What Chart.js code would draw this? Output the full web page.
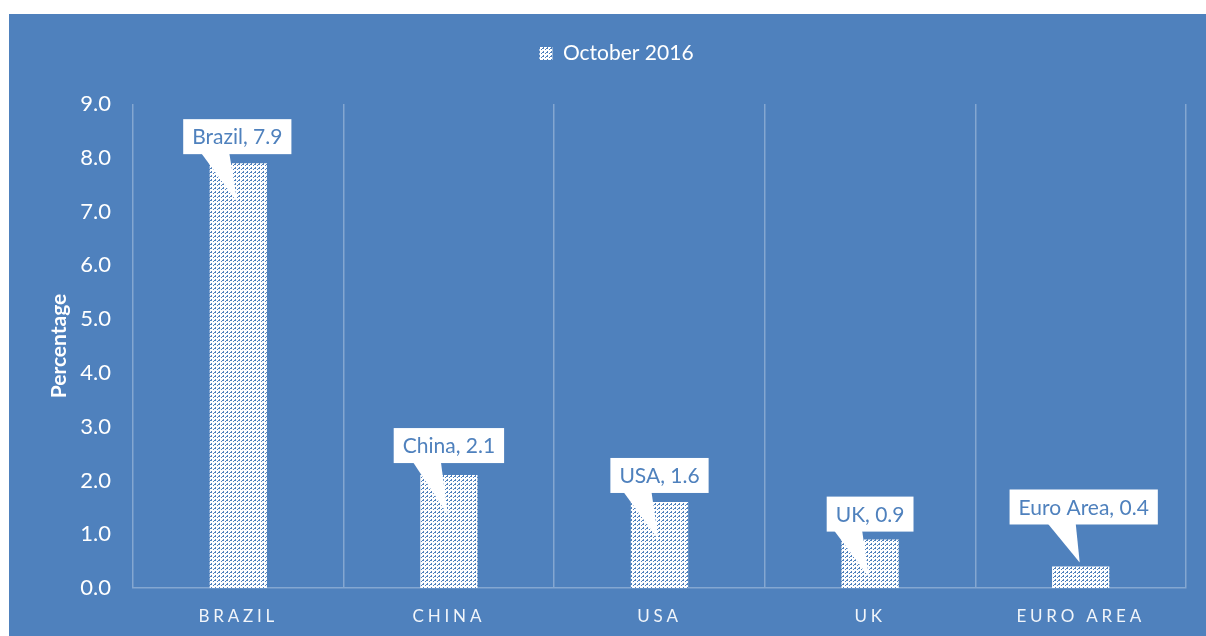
<!DOCTYPE html>
<html>
<head>
<meta charset="utf-8">
<script src="https://cdn.jsdelivr.net/npm/chart.js@4"></script>
<style>
  body { margin: 0; background: #fff; }
  #wrap { position: absolute; left: 9px; top: 14px; width: 1197px; height: 622px; background: #4F81BD; }
</style>
</head>
<body>
<div id="wrap"><canvas id="myBarChart"></canvas></div>
<script>
// data
var categories = ['Brazil', 'China', 'USA', 'UK', 'Euro Area'];
var seriesName = 'October 2016';
var values = [7.9, 2.1, 1.6, 0.9, 0.4];
var yMin = 0, yMax = 9, yStep = 1;

var blue = '#4F81BD';
var bct = document.getElementById('myBarChart').getContext('2d');

// white bars with dashed upward diagonal hatch
function hatch() {
  var c = document.createElement('canvas');
  c.width = 8; c.height = 8;
  var g = c.getContext('2d');
  g.fillStyle = '#fff';
  g.fillRect(0, 0, 8, 8);
  g.fillStyle = blue;
  for (var y = 0; y < 8; y++) {
    for (var x = 0; x < 8; x++) {
      var d = (x + y) % 4;
      if ((d === 3 && y % 4 !== 0) || (d === 0 && y % 4 === 2)) g.fillRect(x, y, 1, 1);
    }
  }
  return bct.createPattern(c, 'repeat');
}
var pat = hatch();

// callout labels, like excel data callouts
var callouts = {
  id: 'callouts',
  beforeInit: function (chart) {
    // extra room between legend and plot
    var lg = chart.legend;
    if (lg) {
      var fit = lg.fit;
      lg.fit = function () { fit.call(lg); lg.height += 30; };
    }
  },
  beforeDraw: function (chart) { chart.ctx.letterSpacing = '0px'; },
  afterDatasetsDraw: function (chart) { chart.ctx.letterSpacing = '3.8px'; },
  afterDraw: function (chart, args, opts) {
    var ctx = chart.ctx;
    ctx.letterSpacing = '0px';
    var meta = chart.getDatasetMeta(0);
    ctx.save();
    ctx.font = '21px Lato';
    meta.data.forEach(function (bar, i) {
      var txt = categories[i] + ', ' + values[i].toFixed(1);
      var w = ctx.measureText(txt).width + 18;
      var h = 35;
      var cx = bar.x + opts.shift[i];
      var bottom = bar.y - opts.lift[i];
      var top = bottom - h;
      var tipY = bar.y + opts.tip[i];
      ctx.fillStyle = '#fff';
      ctx.fillRect(cx - w / 2, top, w, h);
      ctx.beginPath();
      ctx.moveTo(cx - 36, bottom - 1);
      ctx.lineTo(cx - 8, bottom - 1);
      ctx.lineTo(bar.x - 1, tipY);
      ctx.closePath();
      ctx.fill();
      ctx.fillStyle = blue;
      ctx.textAlign = 'center';
      ctx.textBaseline = 'middle';
      ctx.fillText(txt, cx, top + h / 2 + 1);
    });
    ctx.restore();
  }
};

var bchart = new Chart(bct, {
  type: 'bar',
  data: {
    labels: categories,
    datasets: [{
      label: seriesName,
      data: values,
      backgroundColor: pat,
      borderWidth: 0,
      barPercentage: 0.272,
      categoryPercentage: 1
    }]
  },
  options: {
    responsive: true,
    maintainAspectRatio: false,
    animation: false,
    layout: { padding: { left: 38, right: 20, top: 9, bottom: 0 } },
    plugins: {
      tooltip: { enabled: false },
      legend: {
        position: 'top',
        labels: {
          color: '#fff',
          font: { family: 'Lato', size: 21 },
          boxWidth: 13,
          boxHeight: 13,
          padding: 20
        }
      },
      callouts: {
        shift: [-1, 0, 0, 0, 3],
        lift: [9, 12, 9, 8, 42],
        tip: [39, 40, 38, 38, -4]
      }
    },
    scales: {
      x: {
        grid: { display: true, color: 'rgba(255,255,255,0.3)', lineWidth: 1.5, drawTicks: false, offset: true },
        border: { display: true, color: 'rgba(255,255,255,0.3)', width: 1.5 },
        ticks: {
          z: 1,
          color: 'rgba(255,255,255,0.92)',
          font: { family: 'Lato', size: 17 },
          padding: 18,
          autoSkip: false,
          maxRotation: 0,
          callback: function (v, i) { return categories[i].toUpperCase(); }
        },
        afterFit: function (s) { s.height = 48; }
      },
      y: {
        min: yMin,
        max: yMax,
        grid: { display: false },
        border: { display: false },
        ticks: {
          stepSize: yStep,
          color: '#fff',
          font: { family: 'Lato', size: 22 },
          padding: 14,
          callback: function (v) { return v.toFixed(1); }
        },
        title: {
          display: true,
          text: 'Percentage',
          color: '#fff',
          font: { family: 'Lato', size: 21, weight: 'bold' },
          padding: { top: 0, bottom: 0 }
        },
        afterFit: function (s) { s.width = 86; }
      }
    }
  },
  plugins: [callouts]
});
</script>
</body>
</html>
